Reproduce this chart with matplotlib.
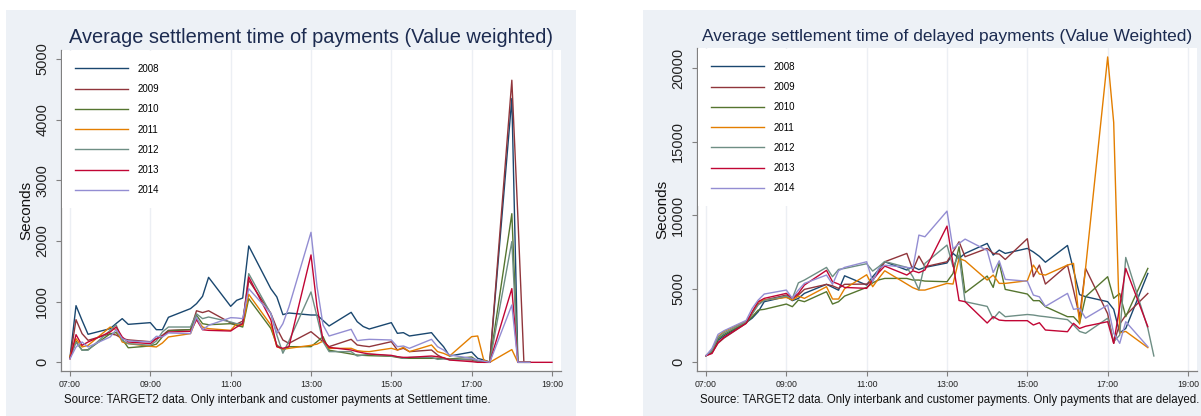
import numpy as np
import matplotlib
matplotlib.use('Agg')
import matplotlib.pyplot as plt
from matplotlib.patches import Rectangle

plt.rcParams['font.family'] = ['Liberation Sans', 'DejaVu Sans']

nan = np.nan

# time bins as they come out of the data (hh:mm, quarter hours)
times = ['07:00', '07:15', '07:30', '07:45', '08:00', '08:15', '08:30', '08:45',
         '09:00', '09:15', '09:30', '09:45', '10:00', '10:15', '10:30', '10:45',
         '11:00', '11:15', '11:30', '11:45', '12:00', '12:15', '12:30', '12:45',
         '13:00', '13:15', '13:30', '13:45', '14:00', '14:15', '14:30', '14:45',
         '15:00', '15:15', '15:30', '15:45', '16:00', '16:15', '16:30', '16:45',
         '17:00', '17:15', '17:30', '17:45', '18:00', '18:15', '18:30', '18:45',
         '19:00']
years = ['2008', '2009', '2010', '2011', '2012', '2013', '2014']
xtick_pos = [7, 9, 11, 13, 15, 17, 19]
xtick_labels = ['07:00', '09:00', '11:00', '13:00', '15:00', '17:00', '19:00']

# left: average settlement time of payments (value weighted), seconds
all_2008 = [80, 934, 692, 462, 555, 640, 720, 626, 654, 538, 538, 742,
            885, 967, 1088, 1401, 923, 1022, 1060, 1918, 1214, 1077, 786, 813,
            780, 780, 690, 599, 824, 670, 590, 549, 654, 478, 489, 434,
            489, 368, 258, 104, 170, 66, 38, 5, 4350, 0, 0, 0, nan]
all_2009 = [60, 703, 473, 363, 470, 450, 390, 370, 340, 390, 445, 527,
            538, 850, 820, 850, 650, 630, 680, 1352, 808, 560, 368, 313,
            505, 423, 340, 258, 379, 286, 270, 258, 340, 203, 231, 176,
            203, 121, 66, 49, 38, 11, 0, 0, 4650, 2400, 0, 0, nan]
all_2010 = [80, 350, 200, 210, 470, 490, 380, 240, 270, 300, 420, 520,
            540, 775, 637, 620, 637, 610, 582, 1050, 560, 286, 203, 258,
            258, 340, 423, 200, 137, 120, 115, 110, 100, 82, 66, 66,
            66, 66, 66, 55, 88, 20, 5, 0, 2450, 0, 0, 0, nan]
all_2011 = [100, 390, 253, 280, 582, 538, 335, 308, 264, 253, 319, 418,
            473, 720, 582, 555, 527, 637, 610, 1121, 615, 258, 214, 231,
            280, 300, 350, 230, 231, 192, 180, 176, 231, 203, 247, 176,
            286, 176, 148, 104, 423, 434, 38, 0, 210, 0, 0, 0, nan]
all_2012 = [70, 330, 200, 200, 527, 615, 363, 308, 280, 352, 500, 582,
            582, 800, 720, 747, 665, 637, 640, 1462, 800, 450, 150, 350,
            1160, 753, 340, 176, 176, 104, 120, 137, 104, 93, 66, 82,
            82, 49, 55, 44, 55, 11, 0, 0, 1990, 0, 0, 0, nan]
all_2013 = [60, 456, 280, 335, 500, 582, 418, 335, 308, 390, 429, 500,
            511, 703, 538, 527, 516, 582, 637, 1407, 700, 258, 231, 258,
            1770, 918, 368, 247, 203, 176, 155, 137, 115, 93, 82, 82,
            104, 93, 77, 38, 11, 0, 0, 0, 1215, 0, 0, 0, 0]
all_2014 = [60, 253, 335, 253, 418, 538, 390, 352, 335, 429, 418, 484,
            473, 747, 538, 610, 736, 731, 720, 1214, 808, 478, 637, 912,
            2143, 1247, 615, 434, 544, 357, 370, 379, 368, 258, 269, 231,
            379, 258, 203, 121, 66, 38, 20, 0, 945, 0, 0, 0, nan]

# right: average settlement time of delayed payments (value weighted), seconds
del_2008 = [452, 700, 1500, 1800, 2700, 3000, 3440, 4120, 4460, 4190, 4345, 4685,
            5300, 5100, 4900, 5880, 5250, 5816, 6300, 6834, 6270, 6500, 6300, 6450,
            6750, 7400, 7060, 7400, 8079, 7287, 7626, 7400, 7740, 7500, 7200, 6800,
            7940, 6270, 4600, 4460, 4120, 3600, 2000, 2300, 6040, nan, nan, nan, nan]
del_2009 = [452, 650, 1300, 1650, 2650, 3300, 3960, 4230, 4570, 4345, 4570, 4956,
            5295, 5200, 5024, 5300, 5318, 5590, 6200, 6834, 7400, 6270, 7220, 6495,
            6834, 7500, 8192, 7174, 7740, 7400, 7355, 6990, 8400, 5816, 6608, 5318,
            6608, 4900, 3100, 6382, 3300, 1290, 2600, 3200, 4680, nan, nan, nan, nan]
del_2010 = [452, 750, 1600, 1900, 2700, 3100, 3550, 3600, 3960, 3780, 4230, 4120,
            4800, 3960, 4120, 4500, 5090, 5400, 5600, 5700, 5700, 5590, 5590, 5520,
            5476, 6040, 7850, 4730, 5861, 5091, 6766, 4956, 4640, 4190, 4190, 3780,
            3100, 3100, 2650, 4460, 5816, 4345, 4680, 3100, 6380, nan, nan, nan, nan]
del_2011 = [452, 850, 1750, 2100, 2800, 3300, 4120, 4230, 4410, 4230, 4500, 4345,
            5137, 4300, 4300, 5000, 5950, 5137, 5700, 6220, 5318, 5070, 4910, 4910,
            5363, 5318, 7060, 6900, 5590, 5930, 5363, 5363, 5544, 6608, 6000, 5930,
            6608, 6720, 2600, 6400, 20750, 16300, 2000, 2100, 1000, nan, nan, nan, nan]
del_2012 = [452, 800, 1700, 2000, 2750, 3300, 3900, 4200, 4500, 4350, 5400, 5590,
            6450, 5816, 6314, 6380, 6700, 6200, 6500, 6850, 6450, 5816, 4930, 6720,
            7966, 6500, 7300, 4120, 3800, 2950, 3440, 3100, 3250, 3213, 3145, 3100,
            2900, 2535, 2100, 1970, 3000, 1400, 1850, 7126, 2310, 430, nan, nan, nan]
del_2013 = [452, 600, 1350, 1700, 2650, 3440, 4120, 4345, 4685, 4345, 4685, 5250,
            6250, 5476, 5318, 5090, 5024, 5590, 6100, 6540, 5930, 6220, 6090, 6270,
            9255, 6700, 4200, 4120, 2670, 3100, 2870, 2830, 2830, 2535, 2690, 2195,
            2080, 2650, 2300, 2450, 2760, 1290, 3780, 6380, 2420, nan, nan, nan, nan]
del_2014 = [452, 950, 1900, 2150, 2850, 3666, 4230, 4640, 4910, 4345, 4910, 5363,
            5930, 5300, 6220, 6450, 6834, 5476, 6380, 6600, 6450, 6380, 8645, 8531,
            10274, 7700, 8079, 8373, 7600, 6100, 6900, 5635, 5510, 4570, 4450, 3800,
            4685, 3600, 3666, 3000, 3890, 1970, 1290, 2760, 1060, nan, nan, nan, nan]

colors = ['#1a476f', '#90353b', '#55752f', '#e37e00', '#6e8e84', '#c10534', '#938dd2']
bg = '#edf1f6'
W, H = 1201, 416

# stata puts hh:mm on the axis as the number hh.mm
x = np.array([int(t[:2]) + int(t[3:]) / 100 for t in times])

fig = plt.figure(figsize=(W / 100, H / 100), dpi=100)
fig.patches.append(Rectangle((6 / W, 0), 570 / W, 406 / H, transform=fig.transFigure,
                             facecolor=bg, edgecolor='none', zorder=-10))
fig.patches.append(Rectangle((643 / W, 0), 558 / W, 406 / H, transform=fig.transFigure,
                             facecolor=bg, edgecolor='none', zorder=-10))


def panel(rect, series, ylim, yticks, title, tsize, source, src_x):
    ax = fig.add_axes(rect)
    for y, c, lab in zip(series, colors, years):
        ax.plot(x, y, color=c, lw=1.0, label=lab)
    ax.set_xlim(6.776, 19.224)
    ax.set_ylim(*ylim)
    ax.set_xticks(xtick_pos)
    ax.set_xticklabels(xtick_labels, fontsize=6.3)
    ax.set_yticks(yticks)
    ax.set_yticklabels([str(v) for v in yticks], fontsize=10.5, rotation=90, va='center')
    ax.xaxis.grid(True, color='#eceff4', lw=1.0)
    ax.set_axisbelow(True)
    for s in ['top', 'right']:
        ax.spines[s].set_visible(False)
    for s in ['left', 'bottom']:
        ax.spines[s].set_color('#808080')
        ax.spines[s].set_linewidth(0.9)
    ax.tick_params(axis='both', color='#808080', length=3.5, width=0.8)
    ax.tick_params(axis='y', pad=5, labelcolor='#222222')
    ax.tick_params(axis='x', pad=3, labelcolor='#222222')
    ax.set_ylabel('Seconds', fontsize=11, labelpad=1, color='#111111')
    ax.set_title(title, fontsize=tsize, color='#1c2b50', pad=5)
    ax.legend(loc='upper left', bbox_to_anchor=(0.002, 0.997), fontsize=7,
              frameon=True, facecolor='white', edgecolor='none', framealpha=1,
              fancybox=False, handlelength=5.5, handletextpad=0.95,
              labelspacing=1.06, borderpad=1.3, borderaxespad=0)
    fig.text(src_x / W, 1 - 400 / H, source, fontsize=8.3, va='center', color='#111111')
    return ax


panel([61 / W, 1 - 371 / H, 500 / W, 321 / H],
      [all_2008, all_2009, all_2010, all_2011, all_2012, all_2013, all_2014],
      (-143, 5148), [0, 1000, 2000, 3000, 4000, 5000],
      'Average settlement time of payments (Value weighted)', 14.4,
      'Source: TARGET2 data. Only interbank and customer payments at Settlement time.', 64)

panel([697 / W, 1 - 371 / H, 500 / W, 323 / H],
      [del_2008, del_2009, del_2010, del_2011, del_2012, del_2013, del_2014],
      (-590, 21358), [0, 5000, 10000, 15000, 20000],
      'Average settlement time of delayed payments (Value Weighted)', 12.5,
      'Source: TARGET2 data. Only interbank and customer payments. Only payments that are delayed.', 700)

plt.savefig('out.png', dpi=100)
